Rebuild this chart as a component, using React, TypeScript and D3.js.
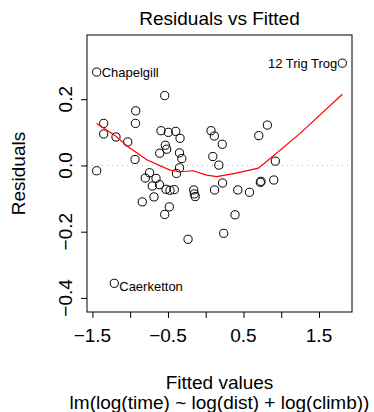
import * as d3 from "d3";
import React, { useEffect, useRef } from "react";

// fitted values and residuals
const fitted = [
  -1.444, -0.543, -0.927, -0.93, -1.351, -1.351, -1.188, -1.033, -0.936, -1.444,
  -0.592, -0.495, -0.397, -0.34, -0.535, -0.517, -0.609, -0.347, -0.317, -0.347,
  -0.387, -0.8, -0.744, -0.658, -0.707, -0.612, -0.526, -0.473, -0.416, -0.84,
  -0.685, -0.482, -0.543, -0.234, -0.159, -0.151, -0.139, -1.211, 0.07, 0.114,
  0.219, 0.094, 0.174, 0.117, 0.223, 0.425, 0.58, 0.723, 0.732, 0.901,
  0.388, 0.238, 0.703, 0.816, 0.922, 1.809,
];
const residuals = [
  0.282, 0.211, 0.165, 0.127, 0.127, 0.095, 0.086, 0.071, 0.018, -0.016,
  0.105, 0.1, 0.103, 0.082, 0.061, 0.049, 0.037, 0.038, 0.021, -0.007,
  -0.024, -0.038, -0.022, -0.039, -0.062, -0.058, -0.072, -0.075, -0.073, -0.11,
  -0.095, -0.125, -0.148, -0.223, -0.074, -0.086, -0.094, -0.356, 0.105, 0.089,
  0.064, 0.027, 0.001, -0.074, -0.053, -0.074, -0.081, -0.051, -0.048, -0.044,
  -0.149, -0.205, 0.09, 0.122, 0.013, 0.309,
];

// labelled points: index into the arrays, name, side of the label
const labelIdx = [0, 37, 55];
const labelNames = ["Chapelgill", "Caerketton", "12 Trig Trog"];
const labelSide = ["right", "right", "left"];

// smoother (red line)
const smoothX = [-1.444, -1.188, -1.033, -0.781, -0.473, -0.34, -0.168, 0.013, 0.146, 0.388, 0.697, 0.874, 1.249, 1.809];
const smoothY = [0.127, 0.088, 0.057, 0.017, -0.014, -0.019, -0.016, -0.029, -0.034, -0.024, -0.008, 0.025, 0.097, 0.215];

const xTicks = [-1.5, -1, -0.5, 0, 0.5, 1, 1.5];
const xTickLabels = [-1.5, -0.5, 0.5, 1.5];
const yTicks = [-0.4, -0.2, 0, 0.2];

const title = "Residuals vs Fitted";
const xLabel = "Fitted values";
const subLabel = "lm(log(time) ~ log(dist) + log(climb))";
const yLabel = "Residuals";

export default function App() {
  const svgRef = useRef<SVGSVGElement>(null);

  useEffect(() => {
    if (!svgRef.current) return;
    const width = 374;
    const height = 412;
    const left = 87,
      right = 352,
      top = 35,
      bottom = 312;
    const font = "'Liberation Sans', Arial, Helvetica, sans-serif";

    const x = d3.scaleLinear([-1.572, 1.937], [left, right]);
    const y = d3.scaleLinear([-0.4426, 0.394], [bottom, top]);

    const svg = d3
      .select(svgRef.current)
      .attr("width", width)
      .attr("height", height)
      .attr("viewBox", [0, 0, width, height])
      .style("font-family", font);

    svg.append("rect").attr("width", width).attr("height", height).attr("fill", "white");

    // zero reference line
    svg
      .append("line")
      .attr("x1", left)
      .attr("x2", right)
      .attr("y1", y(0))
      .attr("y2", y(0))
      .attr("stroke", "#bbb")
      .attr("stroke-width", 1)
      .attr("stroke-dasharray", "1,4");

    // points
    svg
      .append("g")
      .selectAll("circle")
      .data(fitted)
      .join("circle")
      .attr("cx", (d) => x(d))
      .attr("cy", (_, i) => y(residuals[i]))
      .attr("r", 4.1)
      .attr("fill", "none")
      .attr("stroke", "black")
      .attr("stroke-width", 1);

    // smoother
    const line = d3
      .line<number>()
      .x((d) => x(d))
      .y((_, i) => y(smoothY[i]));
    svg
      .append("path")
      .attr("d", line(smoothX))
      .attr("fill", "none")
      .attr("stroke", "red")
      .attr("stroke-width", 1.2);

    // point labels
    svg
      .append("g")
      .attr("font-size", 13)
      .selectAll("text")
      .data(labelIdx)
      .join("text")
      .attr("x", (d, i) => x(fitted[d]) + (labelSide[i] === "right" ? 5 : -5))
      .attr("y", (d) => y(residuals[d]) + (residuals[d] < 0 ? 7.5 : 4.5))
      .attr("text-anchor", (_, i) => (labelSide[i] === "right" ? "start" : "end"))
      .text((_, i) => labelNames[i]);

    // box
    svg
      .append("rect")
      .attr("x", left)
      .attr("y", top)
      .attr("width", right - left)
      .attr("height", bottom - top)
      .attr("fill", "none")
      .attr("stroke", "black")
      .attr("stroke-width", 1);

    // x axis
    const fmtX = d3.format(".1f");
    svg
      .append("g")
      .attr("transform", `translate(0,${bottom})`)
      .call(
        d3
          .axisBottom(x)
          .tickValues(xTicks)
          .tickSize(6)
          .tickFormat(() => "")
      )
      .call((g) => g.select(".domain").remove())
      .call((g) => g.selectAll(".tick line").attr("stroke", "black"));
    svg
      .append("g")
      .attr("font-size", 19)
      .attr("text-anchor", "middle")
      .selectAll("text")
      .data(xTickLabels)
      .join("text")
      .attr("x", (d) => x(d))
      .attr("y", 342)
      .text((d) => fmtX(d));

    // y axis
    const fmtY = d3.format(".1f");
    svg
      .append("g")
      .attr("transform", `translate(${left},0)`)
      .call(
        d3
          .axisLeft(y)
          .tickValues(yTicks)
          .tickSize(6)
          .tickFormat(() => "")
      )
      .call((g) => g.select(".domain").remove())
      .call((g) => g.selectAll(".tick line").attr("stroke", "black"));
    svg
      .append("g")
      .attr("font-size", 19)
      .attr("text-anchor", "middle")
      .selectAll("text")
      .data(yTicks)
      .join("text")
      .attr("transform", (d) => `translate(72,${y(d)}) rotate(-90)`)
      .text((d) => fmtY(d));

    // titles
    svg
      .append("text")
      .attr("x", (left + right) / 2)
      .attr("y", 25)
      .attr("font-size", 19)
      .attr("text-anchor", "middle")
      .text(title);
    svg
      .append("text")
      .attr("x", (left + right) / 2)
      .attr("y", 389)
      .attr("font-size", 19)
      .attr("text-anchor", "middle")
      .text(xLabel);
    svg
      .append("text")
      .attr("x", (left + right) / 2)
      .attr("y", 409)
      .attr("font-size", 19)
      .attr("text-anchor", "middle")
      .text(subLabel);
    svg
      .append("text")
      .attr("transform", `translate(25,${(top + bottom) / 2}) rotate(-90)`)
      .attr("font-size", 19)
      .attr("text-anchor", "middle")
      .text(yLabel);

    return () => {
      d3.select(svgRef.current).selectAll("*").remove();
    };
  }, []);

  return <svg ref={svgRef} style={{ position: "absolute", left: 0, top: 0 }} />;
}
